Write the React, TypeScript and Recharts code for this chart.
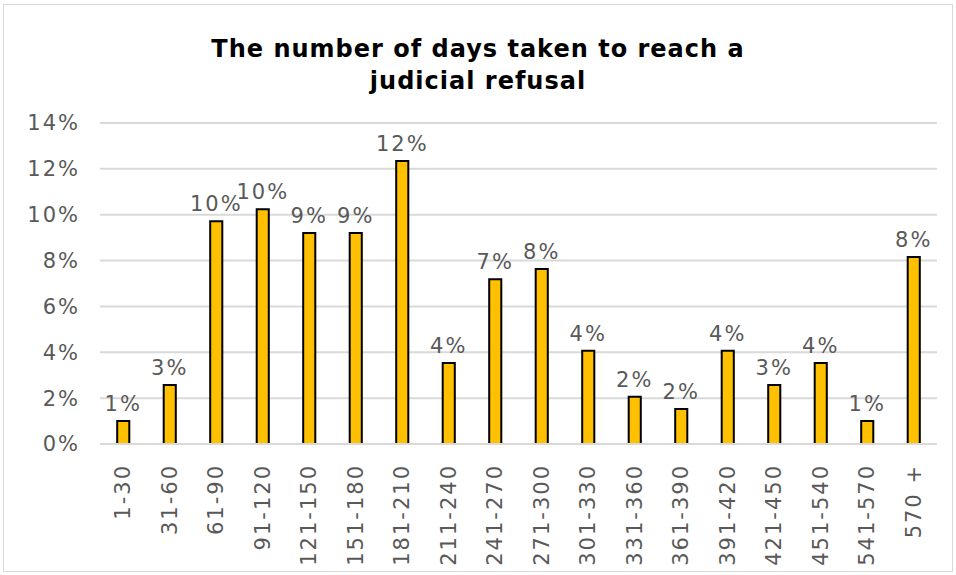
import React from 'react';
import { BarChart, Bar, XAxis, YAxis, CartesianGrid, LabelList } from 'recharts';

const dayRanges = [
  '1-30', '31-60', '61-90', '91-120', '121-150', '151-180', '181-210', '211-240', '241-270',
  '271-300', '301-330', '331-360', '361-390', '391-420', '421-450', '451-540', '541-570', '570 +'
];
const shares = [
  1.0, 2.57, 9.72, 10.24, 9.2, 9.2, 12.34, 3.53, 7.19,
  7.63, 4.07, 2.06, 1.53, 4.07, 2.57, 3.53, 1.0, 8.16
];
const yTicks = [0, 2, 4, 6, 8, 10, 12, 14];

const data = dayRanges.map((range, i) => ({ range, share: shares[i] }));

const FONT = 'DejaVu Sans, Verdana, sans-serif';
const GREY = '#595959';

const RotatedTick = ({ x, y, payload }: any) => (
  <text
    x={x}
    y={y}
    transform={`rotate(-90, ${x}, ${y})`}
    textAnchor="end"
    dominantBaseline="central"
    fill={GREY}
    fontSize={21}
    fontFamily={FONT}
    letterSpacing={2}
  >
    {payload.value}
  </text>
);

const App: React.FC = () => {
  return (
    <div
      style={{
        position: 'absolute',
        left: 3,
        top: 4,
        width: 948,
        height: 566,
        border: '1px solid #d9d9d9',
        background: '#fff',
        fontFamily: FONT
      }}
    >
      <div
        style={{
          position: 'absolute',
          top: 28,
          width: '100%',
          textAlign: 'center',
          fontWeight: 'bold',
          fontSize: 24,
          letterSpacing: 1,
          lineHeight: '32px',
          color: '#000'
        }}
      >
        The number of days taken to reach a<br />judicial refusal
      </div>
      <BarChart
        width={948}
        height={566}
        data={data}
        margin={{ top: 118, right: 15, bottom: 0, left: 0 }}
        barCategoryGap="63%"
      >
        <CartesianGrid vertical={false} stroke="#d9d9d9" strokeWidth={2} />
        <XAxis
          dataKey="range"
          interval={0}
          height={127}
          tickLine={false}
          axisLine={{ stroke: '#d9d9d9', strokeWidth: 2 }}
          tick={<RotatedTick />}
          tickSize={0}
          tickMargin={20}
        />
        <YAxis
          width={96}
          domain={[0, 14]}
          ticks={yTicks}
          tickFormatter={(v: number) => `${v}%`}
          axisLine={false}
          tickLine={false}
          tickSize={0}
          tickMargin={20}
          tick={{ fill: GREY, fontSize: 21, fontFamily: FONT, letterSpacing: 2 }}
        />
        <Bar dataKey="share" fill="#FFC000" stroke="#000" strokeWidth={2} isAnimationActive={false}>
          <LabelList
            dataKey="share"
            position="top"
            offset={10}
            formatter={(v: any) => `${Math.round(Number(v))}%`}
            fill={GREY}
            fontSize={21}
            fontFamily={FONT}
            letterSpacing={2}
          />
        </Bar>
      </BarChart>
    </div>
  );
};

export default App;
